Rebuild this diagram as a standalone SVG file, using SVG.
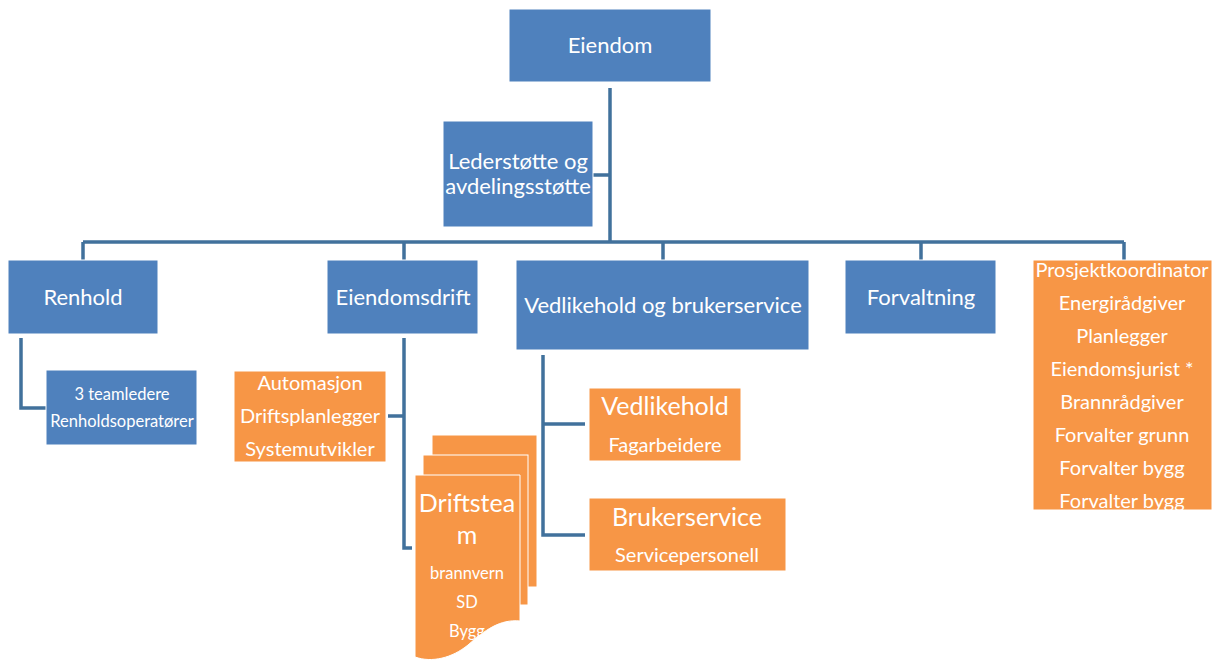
<svg xmlns="http://www.w3.org/2000/svg" width="1216" height="662" viewBox="0 0 1216 662">
<style>
.b{fill:#4F81BD;stroke:#ffffff;stroke-width:1}
.o{fill:#F79646;stroke:#ffffff;stroke-width:1}
.c{fill:none;stroke:#41719C;stroke-width:3.5}
text{font-family:Lato,"Liberation Sans",sans-serif;fill:#ffffff;text-anchor:middle}
.l{font-size:22px}
.x{font-size:25px}
.m{font-size:20px}
.s{font-size:16.5px}
</style>
<rect width="1216" height="662" fill="#ffffff"/>
<g id="connectors">
<path class="c" d="M610,88 V242 M593,175 H610 M83,242 H1124 M83,242 V260 M404,242 V260 M663,242 V260 M921,242 V260 M1124,242 V260"/>
<path class="c" d="M21,338 V408 H46"/>
<path class="c" d="M404,338 V548 H412 M388,416 H404"/>
<path class="c" d="M543,355 V535 H585 M543,424 H585"/>
</g>
<g id="eiendom"><rect class="b" x="509" y="9" width="202" height="73"/><text class="l" x="610" y="53">Eiendom</text></g>
<g id="lederstotte"><rect class="b" x="443" y="121" width="150" height="106"/><text class="l" x="518" y="169">Lederstøtte og</text><text class="l" x="518" y="194">avdelingsstøtte</text></g>
<g id="renhold"><rect class="b" x="8" y="260" width="150" height="74"/><text class="l" x="83" y="305">Renhold</text></g>
<g id="renhold-team"><rect class="b" x="46" y="370" width="151" height="75"/><text class="s" x="122" y="400">3 teamledere</text><text class="s" x="122" y="427">Renholdsoperatører</text></g>
<g id="eiendomsdrift"><rect class="b" x="327" y="260" width="151" height="74"/><text class="l" x="403" y="305">Eiendomsdrift</text></g>
<g id="drift-roller"><rect class="o" x="234" y="371" width="152" height="91"/><text class="m" x="310" y="390">Automasjon</text><text class="m" x="310" y="423">Driftsplanlegger</text><text class="m" x="310" y="456">Systemutvikler</text></g>
<g id="driftsteam">
<rect class="o" x="432" y="435" width="105" height="152"/>
<rect class="o" x="423" y="455" width="105" height="150"/>
<path class="o" d="M415,475 H520 V621 C500,619 485,630 468,645 C452,658 432,663 415,657 Z"/>
<text class="x" x="467" y="512">Driftstea</text>
<text class="x" x="467" y="544">m</text>
<text class="s" x="467" y="579">brannvern</text>
<text class="s" x="467" y="608">SD</text>
<text class="s" x="467" y="637">Bygg</text>
</g>
<g id="vedlikehold-brukerservice"><rect class="b" x="516" y="260" width="293" height="90"/><text class="l" x="663" y="313">Vedlikehold og brukerservice</text></g>
<g id="vedlikehold"><rect class="o" x="589" y="388" width="152" height="73"/><text class="x" x="665" y="415">Vedlikehold</text><text class="m" x="665" y="452">Fagarbeidere</text></g>
<g id="brukerservice"><rect class="o" x="589" y="498" width="197" height="73"/><text class="x" x="687" y="526">Brukerservice</text><text class="m" x="687" y="562">Servicepersonell</text></g>
<g id="forvaltning"><rect class="b" x="845" y="260" width="151" height="74"/><text class="l" x="921" y="305">Forvaltning</text></g>
<g id="forvaltning-roller"><rect class="o" x="1033" y="260" width="179" height="250"/>
<text class="m" x="1122" y="277">Prosjektkoordinator</text>
<text class="m" x="1122" y="310">Energirådgiver</text>
<text class="m" x="1122" y="343">Planlegger</text>
<text class="m" x="1122" y="376">Eiendomsjurist *</text>
<text class="m" x="1122" y="409">Brannrådgiver</text>
<text class="m" x="1122" y="442">Forvalter grunn</text>
<text class="m" x="1122" y="475">Forvalter bygg</text>
<text class="m" x="1122" y="508">Forvalter bygg</text>
</g>
</svg>
